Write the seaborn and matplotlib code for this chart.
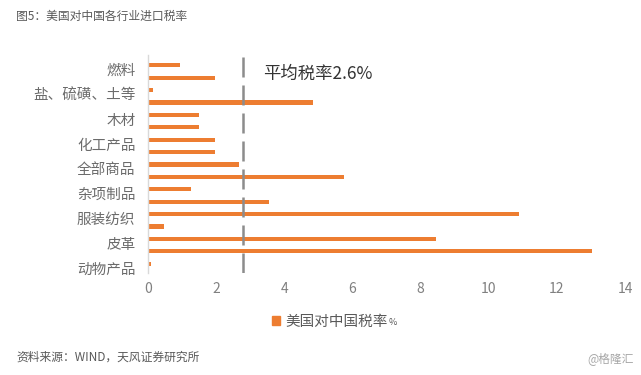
import matplotlib
matplotlib.use("Agg")
import matplotlib.pyplot as plt
import matplotlib.patches as mpatches
import seaborn as sns
import pandas as pd
import numpy as np

# ---- data ----
label_names = ["燃料", "盐、硫磺、土等", "木材", "化工产品", "全部商品",
               "杂项制品", "服装纺织", "皮革", "动物产品"]
values = [0.95, 1.98, 0.16, 4.85, 1.49, 1.49, 1.98, 1.98, 2.66,
          5.75, 1.26, 3.56, 10.9, 0.47, 8.44, 13.02, 0.08]
avg_rate = 2.8          # position of the dashed average line as drawn
avg_text = "平均税率2.6%"
x_ticks = [0, 2, 4, 6, 8, 10, 12, 14]
series_name = "美国对中国税率"
title = "图5：美国对中国各行业进口税率"
source = "资料来源：WIND，天风证券研究所"
watermark = "@格隆汇"

ORANGE = "#ED7D31"

sns.set_style("white")
plt.rcParams["font.family"] = ["Noto Sans CJK SC", "DejaVu Sans"]

df = pd.DataFrame({"idx": np.arange(len(values)), "val": values})

fig = plt.figure(figsize=(6.41, 3.75), dpi=100)
ax = fig.add_axes([148/641, 1-273/375, (625-148)/641, (273-55)/375])

sns.barplot(data=df, x="val", y="idx", orient="h", color=ORANGE,
            width=0.33, ax=ax, saturation=1, linewidth=0)

ax.set_xlim(0, 14)
ax.set_ylim(16.75, -0.83)
ax.set_xlabel("")
ax.set_ylabel("")

ax.set_xticks(x_ticks)
ax.set_xticklabels([str(t) for t in x_ticks], fontsize=10, color="#808080")
ax.set_yticks([2*k + 0.35 for k in range(len(label_names))])
ax.set_yticklabels(label_names, fontsize=10.5, color="#6b6b6b")
ax.tick_params(axis="both", length=0)
ax.tick_params(axis="x", pad=6.5)
ax.tick_params(axis="y", pad=9)

for s in ["top", "right", "bottom"]:
    ax.spines[s].set_visible(False)
ax.spines["left"].set_color("#d9d9d9")
ax.spines["left"].set_linewidth(1)
ax.grid(False)

ax.axvline(avg_rate, color="#8c8c8c", linewidth=1.8, dashes=(8, 3.2), zorder=3)

fig.text(262.7/641, 1-74/375, avg_text, fontsize=12.5, color="#333333",
         ha="left", va="center")

handle = mpatches.Patch(color=ORANGE, label=series_name)
leg = fig.legend(handles=[handle], loc="center", bbox_to_anchor=(330/641, 1-322/375),
                 frameon=False, fontsize=10.5, handlelength=0.55, handleheight=0.55,
                 handletextpad=0.35, labelcolor="#595959")

fig.canvas.draw()
renderer = fig.canvas.get_renderer()
bb = leg.get_texts()[0].get_window_extent(renderer)
fig.text(bb.x1 / fig.bbox.width + 0.001, (bb.y0 + 2) / fig.bbox.height, "%",
         fontsize=6.5, color="#595959", ha="left", va="bottom")

fig.text(16/641, 1-16/375, title, fontsize=8.5, color="#595959", ha="left", va="center")
fig.text(16/641, 1-357/375, source, fontsize=8.5, color="#595959", ha="left", va="center")
fig.text(634/641, 1-359/375, watermark, fontsize=8.5, color="#a6a6a6", ha="right", va="center")

fig.savefig("out.png", dpi=100)
